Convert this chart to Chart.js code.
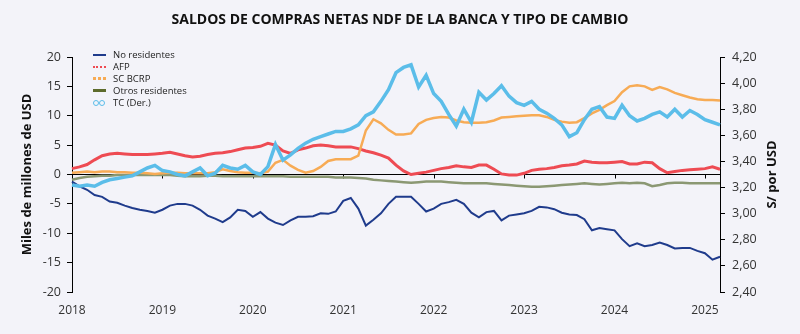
<!DOCTYPE html>
<html lang="es">
<head>
<meta charset="utf-8">
<title>Saldos de compras netas NDF</title>
<script src="https://cdn.jsdelivr.net/npm/chart.js@4.4.1/dist/chart.umd.min.js"></script>
<style>
    html, body { margin: 0; padding: 0; background: #f3f3f9; }
    #wrap { position: relative; width: 800px; height: 334px; }
    #legend { position: absolute; left: 92px; top: 49px; font: 9.5px "Open Sans", sans-serif; color: #222; }
    #legend .row { height: 12px; line-height: 12px; display: flex; align-items: center; }
    #legend .sw { width: 15px; margin-right: 6px; position: relative; height: 6px; }
</style>
</head>
<body>
<div id="wrap">
    <canvas id="chart" width="800" height="334"></canvas>
    <div id="legend"></div>
</div>
<script>
const chartTitle = 'SALDOS DE COMPRAS NETAS NDF DE LA BANCA Y TIPO DE CAMBIO';
const leftAxisTitle = 'Miles de millones de USD';
const rightAxisTitle = 'S/ por USD';

// meses: ene-2018 .. mar-2025
const startYear = 2018;
const monthCount = 87;
const months = [];
for (let i = 0; i < monthCount; i++) {
    months.push(`${startYear + Math.floor(i / 12)}-${String(i % 12 + 1).padStart(2, '0')}`);
}

const noResidentes = [
    -1.2, -2.0, -2.6, -3.5, -3.8, -4.6, -4.8, -5.3, -5.7, -6.0, -6.2, -6.5,
    -6.0, -5.3, -5.0, -5.0, -5.3, -6.0, -7.0, -7.5, -8.1, -7.3, -6.0, -6.2,
    -7.2, -6.4, -7.5, -8.2, -8.6, -7.8, -7.2, -7.2, -7.1, -6.6, -6.7, -6.3,
    -4.5, -4.0, -5.8, -8.7, -7.7, -6.6, -5.0, -3.8, -3.8, -3.8, -5.0, -6.3,
    -5.8, -5.0, -4.7, -4.3, -5.0, -6.5, -7.3, -6.4, -6.2, -7.8, -7.0, -6.8,
    -6.6, -6.2, -5.5, -5.6, -5.9, -6.5, -6.8, -6.9, -7.6, -9.5, -9.1, -9.3,
    -9.5, -11.0, -12.2, -11.7, -12.2, -12.0, -11.6, -12.0, -12.6, -12.5, -12.5, -13.0,
    -13.4, -14.5, -14.0
];

const afp = [
    1.0, 1.3, 1.7, 2.5, 3.2, 3.5, 3.6, 3.5, 3.4, 3.4, 3.4, 3.5,
    3.6, 3.8, 3.5, 3.2, 3.0, 3.1, 3.4, 3.6, 3.7, 3.9, 4.2, 4.5,
    4.6, 4.8, 5.3, 5.0, 4.0, 3.6, 4.2, 4.5, 4.9, 5.0, 4.9, 4.7,
    4.7, 4.7, 4.4, 4.0, 3.7, 3.3, 2.8, 1.6, 0.6, 0.0, 0.2, 0.4,
    0.7, 1.0, 1.2, 1.5, 1.3, 1.2, 1.6, 1.6, 0.9, 0.1, -0.1, -0.1,
    0.2, 0.7, 0.9, 1.0, 1.2, 1.5, 1.6, 1.8, 2.3, 2.1, 2.0, 2.0,
    2.1, 2.2, 1.8, 1.8, 2.1, 2.0, 1.0, 0.3, 0.5, 0.7, 0.8, 0.9,
    1.0, 1.3, 0.9
];

const scBcrp = [
    0.3, 0.4, 0.5, 0.4, 0.5, 0.5, 0.4, 0.4, 0.3, 0.3, 0.2, 0.1,
    0.2, 0.3, 0.3, 0.2, 0.2, 0.2, 0.2, 0.4, 0.9, 0.6, 0.4, 0.3,
    0.3, 0.2, 0.5, 2.0, 2.5, 1.5, 0.8, 0.3, 0.6, 1.3, 2.3, 2.6,
    2.6, 2.6, 3.2, 7.5, 9.4, 8.7, 7.6, 6.8, 6.8, 7.0, 8.6, 9.3,
    9.6, 9.8, 9.7, 9.2, 8.9, 8.8, 8.8, 8.9, 9.2, 9.7, 9.8, 9.9,
    10.0, 10.1, 10.1, 9.8, 9.3, 9.0, 8.8, 8.9, 9.6, 10.4, 11.0, 11.8,
    12.5, 14.0, 15.0, 15.2, 15.0, 14.4, 14.9, 14.5, 13.9, 13.5, 13.1, 12.8,
    12.7, 12.7, 12.6
];

const otrosResidentes = [
    -0.9, -0.6, -0.4, -0.3, -0.2, -0.2, -0.1, -0.1, -0.1, -0.1, -0.1, -0.1,
    -0.1, -0.1, -0.2, -0.3, -0.3, -0.3, -0.2, -0.2, -0.3, -0.3, -0.3, -0.3,
    -0.3, -0.3, -0.3, -0.3, -0.3, -0.4, -0.4, -0.4, -0.4, -0.4, -0.4, -0.5,
    -0.5, -0.5, -0.6, -0.7, -0.9, -1.0, -1.1, -1.2, -1.3, -1.4, -1.3, -1.2,
    -1.2, -1.2, -1.3, -1.4, -1.5, -1.5, -1.5, -1.5, -1.6, -1.7, -1.8, -1.9,
    -2.0, -2.1, -2.1, -2.0, -1.9, -1.8, -1.7, -1.6, -1.5, -1.6, -1.7, -1.6,
    -1.5, -1.4, -1.5, -1.4, -1.5, -2.0, -1.8, -1.5, -1.4, -1.4, -1.5, -1.5,
    -1.5, -1.5, -1.5
];

const tipoCambio = [
    3.22, 3.21, 3.22, 3.21, 3.24, 3.26, 3.27, 3.28, 3.29, 3.32, 3.35, 3.37,
    3.33, 3.32, 3.30, 3.29, 3.32, 3.35, 3.29, 3.31, 3.37, 3.35, 3.34, 3.37,
    3.32, 3.30, 3.36, 3.53, 3.41, 3.45, 3.50, 3.54, 3.57, 3.59, 3.61, 3.63,
    3.63, 3.65, 3.68, 3.75, 3.78, 3.86, 3.95, 4.08, 4.12, 4.14, 3.97, 4.06,
    3.92, 3.86, 3.76, 3.67, 3.80, 3.70, 3.93, 3.87, 3.92, 3.98, 3.90, 3.85,
    3.83, 3.86, 3.80, 3.77, 3.73, 3.68, 3.59, 3.62, 3.72, 3.80, 3.82, 3.74,
    3.73, 3.83, 3.75, 3.71, 3.73, 3.76, 3.78, 3.74, 3.80, 3.74, 3.79, 3.76,
    3.72, 3.70, 3.68
];

const seriesColors = {
    noRes: '#1f3b8c',
    afp: '#ee4b53',
    bcrp: '#f7ab55',
    otros: '#8b9873',
    otrosLegend: '#5d6b2c',
    tc: '#5bbde9'
};

const axisDecor = {
    id: 'axisDecor',
    beforeDatasetsDraw(chart) {
        const { ctx, chartArea, scales: { x, y } } = chart;
        const y0 = y.getPixelForValue(0);
        ctx.save();
        ctx.strokeStyle = '#000';
        ctx.lineWidth = 1;
        ctx.beginPath();
        ctx.moveTo(chartArea.left, y0);
        ctx.lineTo(chartArea.right, y0);
        x.ticks.forEach(t => {
            const px = Math.round(x.getPixelForValue(t.value)) + 0.5;
            ctx.moveTo(px, y0);
            ctx.lineTo(px, y0 + 4);
        });
        ctx.stroke();
        ctx.restore();
    },
    afterDraw(chart) {
        const { ctx, chartArea, scales: { y1 } } = chart;
        ctx.save();
        ctx.translate(y1.right - 28, (chartArea.top + chartArea.bottom) / 2);
        ctx.rotate(-Math.PI / 2);
        ctx.font = 'bold 13px "Open Sans"';
        ctx.fillStyle = '#111';
        ctx.textAlign = 'center';
        ctx.textBaseline = 'middle';
        ctx.fillText(rightAxisTitle, 0, 0);
        ctx.restore();
    }
};

const ctx = document.getElementById('chart').getContext('2d');
Chart.defaults.font.family = '"Open Sans", sans-serif';
Chart.defaults.color = '#333';

const chart = new Chart(ctx, {
    type: 'line',
    data: {
        labels: months,
        datasets: [
            { label: 'No residentes', data: noResidentes, borderColor: seriesColors.noRes, borderWidth: 2, yAxisID: 'y', order: 4 },
            { label: 'AFP', data: afp, borderColor: seriesColors.afp, borderWidth: 3, yAxisID: 'y', order: 2 },
            { label: 'SC BCRP', data: scBcrp, borderColor: seriesColors.bcrp, borderWidth: 2.5, yAxisID: 'y', order: 1 },
            { label: 'Otros residentes', data: otrosResidentes, borderColor: seriesColors.otros, borderWidth: 2.5, yAxisID: 'y', order: 3 },
            { label: 'TC (Der.)', data: tipoCambio, borderColor: seriesColors.tc, borderWidth: 3.5, yAxisID: 'y1', order: 0 }
        ]
    },
    options: {
        responsive: false,
        animation: false,
        elements: { point: { radius: 0 }, line: { tension: 0 } },
        layout: { padding: 0 },
        plugins: {
            legend: { display: false },
            tooltip: { enabled: false },
            title: {
                display: true,
                text: chartTitle,
                color: '#111',
                font: { size: 14, weight: 'bold' },
                padding: { top: 11.5, bottom: 28.7 }
            }
        },
        scales: {
            x: {
                type: 'category',
                grid: { display: false, drawTicks: false },
                border: { display: false },
                afterBuildTicks: s => { s.ticks = s.ticks.filter(t => t.value % 12 === 0); },
                afterFit: s => { s.height = 42; },
                ticks: {
                    autoSkip: false,
                    maxRotation: 0,
                    padding: 11,
                    font: { size: 12 },
                    callback: v => months[v].slice(0, 4)
                }
            },
            y: {
                position: 'left',
                min: -20,
                max: 20,
                afterFit: s => { s.width = 72; },
                grid: { drawOnChartArea: false, tickLength: 5, color: '#000' },
                border: { color: '#000' },
                ticks: { stepSize: 5, padding: 6, font: { size: 12.5 } },
                title: {
                    display: true,
                    text: leftAxisTitle,
                    color: '#111',
                    font: { size: 13, weight: 'bold' },
                    padding: { top: 19, bottom: 0 }
                }
            },
            y1: {
                position: 'right',
                min: 2.4,
                max: 4.2,
                afterFit: s => { s.width = 80; },
                grid: { drawOnChartArea: false, tickLength: 5, color: '#000' },
                border: { color: '#000' },
                ticks: {
                    stepSize: 0.2,
                    padding: 7,
                    font: { size: 12.5 },
                    callback: v => v.toFixed(2).replace('.', ',')
                }
            }
        }
    },
    plugins: [axisDecor]
});

// leyenda en HTML, dentro del área del gráfico
function buildLegend(chart) {
    const box = document.getElementById('legend');
    const swatches = {
        'No residentes': `<div style="position:absolute;top:2px;left:1px;width:13px;height:2px;background:${seriesColors.noRes}"></div>`,
        'AFP': `<div style="position:absolute;top:2px;left:1px;width:13px;border-top:2px dotted ${seriesColors.afp}"></div>`,
        'SC BCRP': `<div style="position:absolute;top:1px;left:1px;width:13px;border-top:3px dotted ${seriesColors.bcrp}"></div>`,
        'Otros residentes': `<div style="position:absolute;top:1px;left:1px;width:13px;height:3px;background:${seriesColors.otrosLegend}"></div>`,
        'TC (Der.)': `<div style="position:absolute;top:0;left:1px;width:4px;height:4px;border:1.3px solid ${seriesColors.tc};border-radius:50%"></div><div style="position:absolute;top:0;left:7px;width:4px;height:4px;border:1.3px solid ${seriesColors.tc};border-radius:50%"></div>`
    };
    box.innerHTML = chart.data.datasets.map(ds =>
        `<div class="row"><div class="sw">${swatches[ds.label]}</div><span>${ds.label}</span></div>`
    ).join('');
}

buildLegend(chart);
</script>
</body>
</html>
